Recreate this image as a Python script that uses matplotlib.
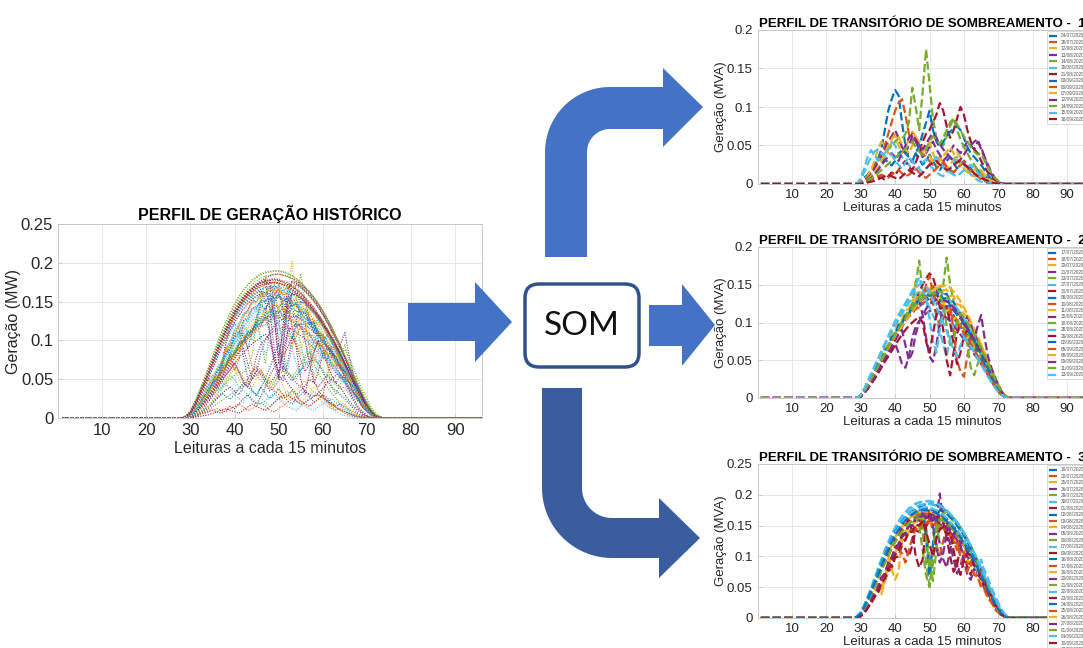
import numpy as np
import matplotlib
matplotlib.use('Agg')
import matplotlib.pyplot as plt
from matplotlib.patches import Polygon, FancyBboxPatch
from matplotlib.ticker import FuncFormatter, MultipleLocator

plt.rcParams['font.family'] = ['Liberation Sans', 'DejaVu Sans']

# === DADOS ===
LEITURAS = np.arange(1, 97)   # leituras a cada 15 minutos
INICIO = 29                   # leitura do primeiro valor de cada lista
# valores em kW/kVA (divididos por 1000 na hora de plotar), leituras 29..74; fora disso = 0

datas_g1 = ['24/07/2020', '28/07/2020', '12/08/2020', '13/08/2020', '14/08/2020', '30/08/2020', '21/08/2020',
            '03/09/2020', '06/09/2020', '07/09/2020', '12/09/2020', '14/09/2020', '15/09/2020', '16/09/2020']
grupo1 = [
    [0,3,8,12,18,25,32,45,70,95,110,122,115,80,50,35,28,40,32,25,30,38,30,22,18,25,30,35,28,20,24,30,26,20,15,18,14,10,8,5,3,1,0,0,0,0],
    [0,2,6,10,15,22,30,38,50,65,80,95,105,110,90,65,55,62,50,40,35,30,25,28,35,30,22,18,15,20,25,30,22,15,10,12,8,5,3,2,1,0,0,0,0,0],
    [0,2,5,10,18,30,45,55,50,40,55,65,50,40,45,60,68,62,50,42,48,55,40,30,35,28,20,25,32,40,35,28,20,15,18,22,16,10,6,3,1,0,0,0,0,0],
    [0,1,4,8,12,20,28,35,45,55,62,70,60,48,40,50,62,55,45,35,40,48,55,45,38,30,35,42,50,45,40,48,55,50,45,55,48,35,22,12,6,2,0,0,0,0],
    [0,1,3,6,10,15,22,30,38,45,50,55,60,58,65,80,125,100,70,120,175,130,85,60,55,50,62,75,85,70,58,48,40,32,25,18,12,8,5,3,1,0,0,0,0,0],
    [0,5,15,25,35,42,45,40,35,48,55,50,40,35,30,25,20,18,22,28,32,25,20,15,12,10,15,20,28,35,30,25,18,12,8,5,3,2,1,0,0,0,0,0,0,0],
    [0,1,2,4,6,8,10,8,6,10,15,12,18,25,30,22,18,28,40,55,65,70,80,90,105,95,75,60,70,85,100,90,70,55,45,40,30,22,15,10,5,2,1,0,0,0],
    [0,1,3,6,10,15,20,26,32,28,24,30,38,45,40,35,30,40,50,65,80,95,70,55,48,55,62,68,72,75,70,60,48,40,35,30,25,18,12,6,2,0,0,0,0,0],
    [0,0,2,4,6,8,10,12,10,8,12,15,18,14,10,12,16,20,15,10,8,12,16,20,25,28,22,18,15,20,25,28,22,18,14,10,6,4,2,1,0,0,0,0,0,0],
    [0,1,3,6,10,15,22,30,40,50,58,65,60,52,45,40,50,60,55,48,42,36,30,25,30,36,42,48,40,32,26,20,15,12,10,14,18,12,8,4,2,1,0,0,0,0],
    [0,1,2,5,8,12,18,24,30,36,40,35,30,40,50,60,65,58,50,45,52,60,66,60,52,45,40,35,30,28,32,38,45,50,55,58,45,35,25,15,8,3,1,0,0,0],
    [0,0,2,4,7,10,14,18,22,26,30,34,38,42,46,50,55,48,42,38,45,55,62,58,52,60,70,80,85,78,70,62,55,48,42,38,40,30,22,14,8,4,1,0,0,0],
    [0,8,20,35,44,38,30,35,40,45,38,30,25,20,28,35,30,25,20,15,20,25,30,35,28,22,18,15,12,10,14,18,22,25,20,15,10,6,3,1,0,0,0,0,0,0],
    [0,0,1,2,3,4,6,8,10,12,10,8,6,10,14,18,15,12,10,14,20,25,28,30,25,22,18,20,24,28,30,26,22,18,14,10,8,6,4,2,1,0,0,0,0,0],
]

datas_g2 = ['17/07/2020', '18/07/2020', '20/07/2020', '21/07/2020', '23/07/2020', '27/07/2020', '31/07/2020',
            '08/08/2020', '10/08/2020', '11/08/2020', '15/08/2020', '18/08/2020', '28/08/2020', '29/08/2020',
            '02/09/2020', '05/09/2020', '08/09/2020', '09/09/2020', '11/09/2020', '13/09/2020']
grupo2 = [
    [0,3,10,16,28,33,46,50,65,70,84,86,98,99,112,110,121,118,130,124,135,128,134,124,130,117,122,108,110,96,97,82,84,68,68,53,52,38,35,22,19,9,5,1,0,0],
    [0,2,7,15,24,31,42,48,58,66,76,80,90,95,102,108,112,118,120,126,128,133,125,110,95,105,118,115,108,104,95,92,82,78,70,62,55,47,38,30,21,13,6,2,0,0],
    [0,2,8,14,22,30,38,50,55,68,72,85,88,100,105,118,120,158,125,140,132,142,128,135,122,128,115,118,104,108,92,95,80,83,66,70,55,56,42,40,28,18,9,3,0,0],
    [0,2,6,12,19,26,34,42,50,58,66,72,60,45,40,55,80,95,102,108,112,115,117,116,114,110,106,102,96,90,84,78,72,66,58,52,45,38,30,22,15,8,4,1,0,0],
    [0,3,9,17,25,34,43,52,60,70,78,86,94,100,108,114,125,150,182,140,130,138,132,140,145,150,186,150,128,118,108,98,88,80,72,66,58,50,42,30,20,12,5,1,0,0],
    [0,4,12,22,32,42,52,62,72,82,92,102,110,118,126,134,142,150,160,145,130,120,110,100,90,70,55,80,100,95,88,82,76,70,62,55,48,40,33,25,17,10,4,1,0,0],
    [0,2,7,14,22,30,38,47,56,65,74,82,90,98,106,114,122,130,140,150,158,165,160,145,120,90,50,30,60,85,100,98,92,86,78,70,62,54,44,34,24,14,7,2,0,0],
    [0,3,10,15,25,31,43,48,60,65,78,82,95,98,110,112,125,126,136,135,145,143,148,142,145,137,138,128,127,115,113,100,97,83,79,65,60,45,40,25,20,10,5,1,0,0],
    [0,2,8,15,23,31,40,49,57,66,74,82,90,97,104,111,117,122,127,131,134,136,137,136,134,131,127,122,90,50,35,28,55,80,85,76,66,56,46,36,26,16,8,3,0,0],
    [0,3,11,17,29,34,48,52,67,70,85,88,101,104,116,118,129,130,140,139,147,144,150,145,149,142,144,135,135,124,123,111,108,95,91,76,71,56,50,34,27,14,7,2,0,0],
    [0,2,7,13,21,28,36,45,53,62,70,78,86,94,102,110,118,124,130,110,80,55,48,70,100,118,122,120,116,111,105,99,108,98,86,76,66,56,46,36,26,16,8,3,0,0],
    [0,3,9,16,24,33,42,51,60,68,77,85,93,101,109,116,123,129,134,138,141,143,144,143,141,138,134,129,123,116,108,95,70,40,30,45,60,52,42,32,22,13,6,2,0,0],
    [0,4,11,20,30,40,50,60,70,79,88,96,104,112,119,126,132,137,141,144,130,105,75,60,90,120,130,128,124,119,112,105,97,89,80,71,61,51,41,31,21,12,5,1,0,0],
    [0,2,6,12,18,25,32,40,48,55,62,70,77,84,90,96,100,104,108,100,75,60,85,110,118,120,119,100,70,45,60,82,90,84,76,68,60,52,43,34,25,16,8,3,0,0],
    [0,3,10,16,28,32,46,49,64,67,81,83,97,98,111,111,123,122,132,130,139,135,143,136,140,131,133,122,122,110,109,96,94,80,78,63,60,45,41,27,21,11,5,1,0,0],
    [0,2,8,14,22,30,39,47,56,65,73,81,89,96,103,110,116,122,127,131,150,162,140,128,125,121,117,112,106,100,93,86,79,72,64,56,48,40,32,24,16,9,4,1,0,0],
    [0,2,7,14,22,30,38,47,55,64,72,80,88,95,102,109,115,121,127,132,136,140,143,145,147,148,150,146,141,135,128,120,111,102,92,82,71,60,49,38,27,17,8,3,0,0],
    [0,2,7,13,20,28,36,44,52,60,68,76,84,90,70,50,60,85,100,110,118,124,128,130,131,130,128,125,120,115,108,100,92,85,78,95,110,80,55,40,28,17,8,3,0,0],
    [0,3,9,16,25,33,42,51,59,68,76,84,92,99,106,113,119,124,129,133,136,138,139,138,136,125,95,70,75,100,112,107,100,92,84,75,66,56,46,36,26,16,8,3,0,0],
    [0,4,12,21,31,41,51,61,71,81,90,99,108,116,124,131,138,145,150,153,148,140,130,120,110,100,88,75,65,55,70,80,75,68,60,52,44,36,28,21,14,8,4,1,0,0],
]

datas_g3 = ['19/07/2020', '22/07/2020', '25/07/2020', '26/07/2020', '29/07/2020', '30/07/2020', '01/08/2020',
            '02/08/2020', '03/08/2020', '04/08/2020', '05/08/2020', '06/08/2020', '07/08/2020', '09/08/2020',
            '16/08/2020', '17/08/2020', '19/08/2020', '20/08/2020', '21/08/2020', '22/08/2020', '23/08/2020',
            '24/08/2020', '25/08/2020', '26/08/2020', '27/08/2020', '01/09/2020', '04/09/2020', '10/09/2020',
            '17/09/2020']
grupo3 = [
    [2,7,17,29,43,57,72,87,101,114,126,137,147,155,162,168,173,177,180,183,185,186,184,183,180,177,173,168,162,155,147,138,128,117,105,93,80,67,54,42,30,19,10,4,1,0],
    [1,4,10,20,26,40,45,62,70,88,95,112,118,134,138,152,150,164,160,171,166,172,163,168,158,161,148,150,128,110,132,118,114,98,93,76,70,52,46,30,24,12,7,2,0,0],
    [1,5,12,22,30,44,50,45,60,85,100,105,122,130,140,148,150,158,156,165,160,166,158,161,150,152,140,141,128,126,110,109,92,89,72,68,52,46,32,26,14,9,3,1,0,0],
    [2,7,16,28,41,55,69,83,96,109,121,132,141,149,156,162,166,170,172,174,175,174,172,150,120,95,82,110,140,135,128,120,111,101,90,79,67,55,43,32,21,12,5,1,0,0],
    [1,6,16,28,41,55,69,84,98,111,123,134,144,152,159,165,170,174,176,140,90,52,95,150,176,174,171,167,161,154,146,137,127,116,104,92,79,66,53,40,28,17,9,3,1,0],
    [3,10,21,34,49,64,80,95,110,123,136,147,157,165,172,178,182,186,188,189,190,190,189,187,184,180,175,169,163,156,148,139,129,118,106,94,81,68,55,42,30,19,10,4,1,0],
    [1,3,8,16,24,34,40,55,60,76,80,98,100,118,112,100,118,142,140,155,150,160,152,157,148,150,138,139,125,124,108,106,82,70,88,72,64,50,42,28,21,10,6,2,0,0],
    [2,8,18,30,44,58,73,87,101,114,126,137,146,154,161,167,171,174,176,177,178,177,175,172,169,165,160,154,148,141,133,124,114,104,93,82,70,58,46,35,24,14,7,2,0,0],
    [1,6,15,27,40,53,67,80,94,106,118,129,138,146,153,159,163,166,168,169,170,168,140,118,102,125,150,148,142,136,128,120,111,101,91,80,69,57,46,35,24,14,6,2,0,0],
    [1,5,13,24,36,48,55,48,66,92,80,62,75,125,133,140,145,149,152,154,155,155,154,151,148,144,139,133,127,120,112,103,94,84,74,64,54,44,34,25,16,9,4,1,0,0],
    [1,4,10,20,28,40,46,62,70,86,94,110,116,132,136,150,150,160,158,167,162,167,158,162,150,153,140,120,95,72,85,105,100,90,86,70,64,48,42,28,21,10,5,1,0,0],
    [2,7,17,29,42,56,70,85,99,112,124,135,145,153,160,166,171,175,177,178,150,95,60,110,160,172,168,163,157,150,142,133,123,113,102,90,78,65,52,40,28,17,9,3,1,0],
    [2,8,19,32,46,61,76,91,105,118,130,141,151,159,166,172,177,180,183,184,185,185,184,182,179,175,171,165,159,152,144,135,125,110,95,80,88,78,64,50,37,25,14,6,2,0],
    [1,4,10,20,28,42,50,66,72,90,98,115,120,135,138,150,150,160,158,169,162,169,160,164,152,155,130,100,75,85,118,120,116,100,95,78,72,55,48,32,25,12,7,2,0,0],
    [2,7,17,29,43,57,71,86,100,113,125,136,146,154,161,167,172,175,177,170,130,70,120,165,175,173,169,164,158,151,143,134,124,113,101,89,76,63,50,38,26,15,7,2,0,0],
    [1,4,9,18,26,38,45,60,68,84,90,108,112,105,90,110,130,146,140,154,148,158,150,155,144,148,135,137,122,124,106,107,88,88,70,67,50,46,32,26,14,9,4,1,0,0],
    [1,6,16,28,41,55,69,83,97,110,122,133,142,150,157,163,167,171,173,174,175,174,172,170,166,162,157,151,145,138,130,121,112,102,91,80,68,57,45,34,23,13,6,2,0,0],
    [1,5,14,25,37,50,64,77,90,102,113,124,133,141,148,154,158,161,164,165,165,164,162,159,202,152,147,141,134,127,119,95,70,62,80,76,65,54,43,32,22,13,6,2,0,0],
    [1,6,15,27,40,53,66,80,93,105,117,127,137,145,151,157,161,164,150,110,70,50,90,140,160,158,155,150,145,138,131,123,114,104,94,83,71,60,48,37,26,16,8,3,1,0],
    [3,9,20,33,48,63,79,94,109,122,134,145,155,164,171,177,181,185,187,188,189,189,188,186,183,179,174,169,162,155,147,138,128,117,105,93,80,67,54,42,30,19,10,4,1,0],
    [1,6,15,27,40,53,67,81,94,107,119,130,139,147,154,159,140,100,82,95,150,168,168,166,163,159,154,148,141,134,126,117,108,98,87,76,65,53,42,31,21,12,5,1,0,0],
    [2,8,18,31,45,59,74,89,103,116,128,139,148,156,163,168,172,175,177,178,179,178,176,174,170,166,161,155,149,142,134,125,115,105,94,83,71,59,47,35,24,14,7,2,0,0],
    [1,3,9,17,26,36,44,58,66,80,88,104,110,125,128,142,142,152,150,159,154,159,150,155,144,147,134,136,122,122,100,80,75,92,90,85,70,61,46,37,23,16,6,3,1,0],
    [1,6,16,28,41,50,42,38,60,95,120,131,141,149,156,161,166,169,172,173,174,173,171,168,164,160,155,149,142,135,127,118,108,98,88,77,66,54,43,32,21,12,5,1,0,0],
    [1,4,10,20,28,40,48,64,72,88,96,112,118,132,136,150,150,162,160,170,164,169,150,115,90,105,140,148,136,137,122,122,105,103,86,82,64,58,42,35,20,14,5,2,0,0],
    [1,5,14,25,37,50,63,76,89,101,113,123,132,140,147,153,157,160,162,160,130,80,110,150,160,158,154,149,143,137,129,121,112,102,92,81,70,58,47,36,25,15,7,2,0,0],
    [2,7,17,29,43,57,72,87,101,114,126,137,147,155,162,168,172,175,177,179,180,179,177,175,171,167,162,156,149,142,134,125,115,104,90,72,95,72,58,45,32,21,11,4,1,0],
    [1,3,8,16,24,34,42,56,64,80,86,102,108,124,126,140,140,152,150,158,140,120,100,130,144,148,136,139,110,85,70,95,105,102,86,81,64,58,42,36,22,15,6,2,0,0],
    [2,7,17,29,42,56,70,84,98,111,123,134,143,151,158,164,168,172,174,175,175,174,172,170,166,162,157,152,146,139,131,122,113,103,92,81,69,57,45,34,23,14,7,2,0,0],
]

# === ESTILO ===
CORES = ['#0072BD', '#D95319', '#EDB120', '#7E2F8E', '#77AC30', '#4DBEEE', '#A2142F']
W, H = 1083, 648
AZUL = '#4472C4'
AZUL_ESC = '#3A5DA0'


def perfil(vals):
    y = np.zeros(len(LEITURAS))
    y[INICIO - 1:INICIO - 1 + len(vals)] = np.array(vals) / 1000.0
    return y


def ret_px(esq, topo, dir, base):
    # retângulo em pixels -> fração da figura
    return [esq / W, 1 - base / H, (dir - esq) / W, (base - topo) / H]


def estilo_eixo(ax, ymax, fs_tick):
    ax.set_xlim(0, 96)
    ax.set_ylim(0, ymax)
    ax.yaxis.set_major_locator(MultipleLocator(0.05))
    ax.yaxis.set_major_formatter(FuncFormatter(lambda v, p: f'{v:g}'))
    ax.set_xticks(range(10, 91, 10))
    ax.grid(True, color='#e8e8e8', lw=0.7)
    ax.set_axisbelow(True)
    ax.tick_params(direction='in', length=3, width=0.5, color='#bbbbbb',
                   labelsize=fs_tick, labelcolor='#262626')
    for s in ax.spines.values():
        s.set_color('#c8c8c8')
        s.set_linewidth(0.7)


fig = plt.figure(figsize=(W / 100, H / 100), dpi=100)

# --- perfil histórico (todos os dias) ---
ax0 = fig.add_axes(ret_px(58, 224, 481.6, 418))
todos = grupo1 + grupo2 + grupo3
for i, vals in enumerate(todos):
    ax0.plot(LEITURAS, perfil(vals), ls=(0, (1, 1.3)), lw=0.8, color=CORES[i % 7])
estilo_eixo(ax0, 0.25, 12)
ax0.set_title('PERFIL DE GERAÇÃO HISTÓRICO', fontsize=11.5, fontweight='bold', pad=3)
ax0.set_xlabel('Leituras a cada 15 minutos', fontsize=11.5, color='#262626', labelpad=2)
ax0.set_ylabel('Geração (MW)', fontsize=11.5, color='#262626', labelpad=0)

# --- grupos do SOM ---
grupos = [(grupo1, datas_g1, 30, 184, 0.2),
          (grupo2, datas_g2, 247, 398, 0.2),
          (grupo3, datas_g3, 464, 618, 0.25)]
for n, (dados, datas, topo, base, ymax) in enumerate(grupos, start=1):
    ax = fig.add_axes(ret_px(757.5, topo, 757.5 + 96 * 3.44, base))
    for i, vals in enumerate(dados):
        ax.plot(LEITURAS, perfil(vals), ls='--', lw=1.6, color=CORES[i % 7], label=datas[i])
    estilo_eixo(ax, ymax, 9.5)
    if n == 3:
        # a legenda comprida cobre o rótulo 90
        ax.set_xticklabels([str(v) for v in range(10, 81, 10)] + [''])
    ax.set_title(f'PERFIL DE TRANSITÓRIO DE SOMBREAMENTO -  {n}', fontsize=9.5,
                 fontweight='bold', pad=2)
    ax.set_xlabel('Leituras a cada 15 minutos', fontsize=9.5, color='#262626', labelpad=1)
    ax.set_ylabel('Geração (MVA)', fontsize=9.5, color='#262626', labelpad=0)
    leg = ax.legend(loc='upper right', fontsize=3.4, handlelength=1.8, labelspacing=0.3,
                    borderpad=0.4, borderaxespad=0.3, fancybox=False, framealpha=1,
                    edgecolor='#cccccc')
    leg.get_frame().set_linewidth(0.5)
    for t in leg.get_texts():
        t.set_color('#555555')

# --- setas e caixa SOM (camada por cima, em pixels) ---
ov = fig.add_axes([0, 0, 1, 1], zorder=10)
ov.set_xlim(0, W)
ov.set_ylim(H, 0)
ov.axis('off')


def arco(cx, cy, r, a0, a1, n=24):
    t = np.radians(np.linspace(a0, a1, n))
    return list(zip(cx + r * np.cos(t), cy + r * np.sin(t)))


seta_esq = [(408, 303), (475, 303), (475, 282), (512, 322), (475, 362), (475, 341), (408, 341)]
seta_meio = [(649, 305), (682, 305), (682, 284), (715, 325), (682, 366), (682, 346), (649, 346)]
seta_cima = ([(545, 257), (545, 152)] + arco(610, 152, 65, 180, 270)
             + [(663, 87), (663, 68), (703, 107), (663, 147), (663, 129)]
             + arco(610, 152, 23, 270, 180) + [(587, 257)])
seta_baixo = ([(542, 388), (542, 488)] + arco(612, 488, 70, 180, 90)
              + [(659, 558), (659, 578), (700, 538), (659, 498), (659, 518)]
              + arco(612, 488, 30, 90, 180) + [(582, 388)])

for pts, cor in [(seta_esq, AZUL), (seta_meio, AZUL), (seta_cima, AZUL), (seta_baixo, AZUL_ESC)]:
    ov.add_patch(Polygon(pts, closed=True, facecolor=cor, edgecolor='none'))

caixa = FancyBboxPatch((525, 284), 114, 83, boxstyle='round,pad=0,rounding_size=14',
                       facecolor='white', edgecolor='#2F528F', lw=2.5)
ov.add_patch(caixa)
ov.text(582, 326, 'SOM', ha='center', va='center', fontsize=24, family=['Lato', 'DejaVu Sans'],
        color='#111111')

fig.savefig('out.png', dpi=100)
